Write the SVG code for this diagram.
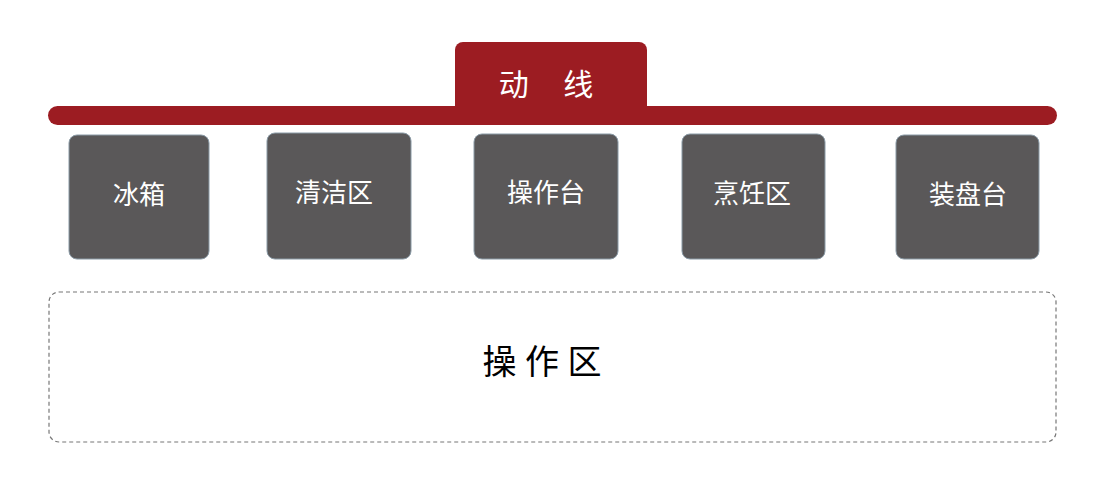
<svg xmlns="http://www.w3.org/2000/svg" width="1097" height="494" viewBox="0 0 1097 494">
<style>
.n{fill:#5a5859;stroke:#8a9aa6;stroke-width:1}
.t{fill:#fff;font-family:"Liberation Serif","Noto Sans CJK SC",serif;font-size:26px;text-anchor:middle;dominant-baseline:central}
</style>
<rect width="1097" height="494" fill="#fff"/>
<g id="line">
<path d="M455,106 V50 a8,8 0 0 1 8,-8 H639 a8,8 0 0 1 8,8 V106 Z" fill="#9c1c22"/>
<rect x="48" y="106" width="1009" height="19" rx="9.5" fill="#9c1c22"/>
<text x="553" y="82" fill="#fff" font-family="Noto Sans CJK SC,sans-serif" font-size="30" text-anchor="middle" dominant-baseline="central" letter-spacing="14">动 线</text>
</g>
<g id="n1"><rect class="n" x="69" y="135" width="140" height="124" rx="8"/><text class="t" x="139" y="195">冰箱</text></g>
<g id="n2"><rect class="n" x="267" y="133" width="144" height="126" rx="8"/><text class="t" x="334" y="193">清洁区</text></g>
<g id="n3"><rect class="n" x="474" y="134" width="144" height="125" rx="8"/><text class="t" x="546" y="193">操作台</text></g>
<g id="n4"><rect class="n" x="682" y="134" width="143" height="125" rx="8"/><text class="t" x="752" y="194">烹饪区</text></g>
<g id="n5"><rect class="n" x="896" y="135" width="143" height="124" rx="8"/><text class="t" x="968" y="195">装盘台</text></g>
<g id="zone">
<rect x="49" y="292" width="1007" height="150" rx="10" fill="none" stroke="#777" stroke-width="1.2" stroke-dasharray="4,3"/>
<text x="542" y="362" font-family="Liberation Serif,Noto Sans CJK SC,serif" font-size="34" text-anchor="middle" dominant-baseline="central">操 作 区</text>
</g>
<g id="connectors"/>
</svg>
